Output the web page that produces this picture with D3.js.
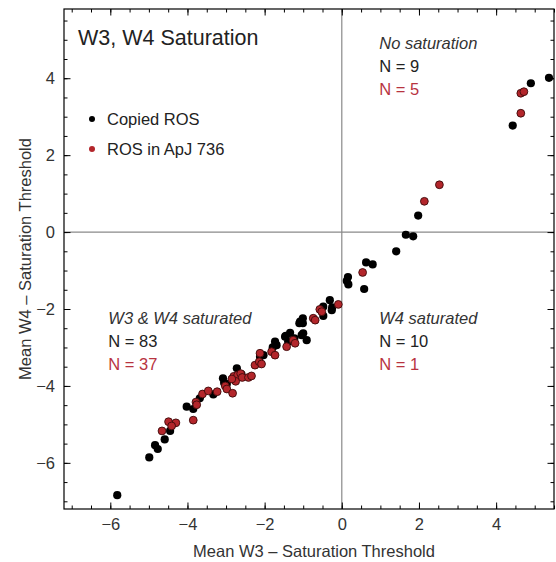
<!DOCTYPE html>
<html>
<head>
<meta charset="utf-8">
<script src="https://cdn.jsdelivr.net/npm/d3@7"></script>
<style>
  body { margin: 0; background: #fff; }
  svg { font-family: "Liberation Sans", Arial, sans-serif; }
</style>
</head>
<body>
<svg width="556" height="562"></svg>
<script>
// DATA

var copiedROS = [
  [-5.82,-6.84],[-4.99,-5.86],[-4.84,-5.54],[-4.77,-5.64],[-4.59,-5.39],[-4.45,-5.17],
  [-4.02,-4.54],[-3.85,-4.60],[-3.68,-4.32],[-3.33,-4.22],[-3.05,-3.92],[-2.98,-3.95],
  [-3.08,-3.80],[-2.72,-3.54],[-2.60,-3.70],[-2.12,-3.24],[-2.03,-3.20],[-1.79,-3.00],
  [-1.73,-2.85],[-1.69,-2.94],[-1.47,-2.72],[-1.39,-2.85],[-1.45,-2.70],[-1.34,-2.62],
  [-1.23,-2.76],[-1.04,-2.68],[-0.91,-2.81],[-1.00,-2.63],[-1.08,-2.33],[-1.01,-2.24],
  [-1.10,-2.37],[-1.01,-2.37],[-0.48,-2.18],[-0.48,-1.94],[-0.31,-1.77],[-0.25,-1.96],
  [-0.26,-2.03],
  [0.13,-1.27],[0.17,-1.36],[0.16,-1.17],[0.58,-1.48],[0.63,-0.79],[0.80,-0.84],
  [1.41,-0.50],[1.66,-0.07],[1.85,-0.11],
  [1.98,0.43],[4.43,2.77],[4.90,3.87],[5.37,4.01]
];

var apj736ROS = [
  [-4.66,-5.17],[-4.49,-4.93],[-4.30,-4.96],[-4.41,-5.04],[-3.85,-4.89],[-3.78,-4.42],
  [-3.76,-4.49],[-3.61,-4.21],[-3.46,-4.13],[-3.23,-4.15],[-3.02,-4.00],[-2.98,-4.08],
  [-2.83,-4.19],[-2.80,-3.75],[-2.70,-3.72],[-2.62,-3.68],[-2.75,-3.88],[-2.85,-3.82],
  [-2.58,-3.78],[-2.42,-3.78],[-2.34,-3.74],[-2.25,-3.46],[-2.14,-3.37],[-2.08,-3.43],
  [-2.12,-3.15],[-1.82,-3.11],[-1.73,-3.20],[-1.43,-2.98],[-1.26,-2.81],[-1.21,-2.89],
  [-0.74,-2.24],[-0.69,-2.29],[-0.57,-2.01],[-0.52,-2.07],[-0.09,-1.88],
  [0.54,-1.05],
  [2.14,0.80],[2.53,1.23],[4.64,3.09],[4.64,3.61],[4.72,3.65]
];

var majorTicks = [-6, -4, -2, 0, 2, 4];
var minorTicks = d3.range(-7, 5.51, 0.5);

var quadrantLabels = [
  { title: "No saturation",     x: 0.97,  y: 4.75, nBlack: 9,  nRed: 5 },
  { title: "W3 & W4 saturated", x: -6.05, y: -2.38, nBlack: 83, nRed: 37 },
  { title: "W4 saturated",      x: 0.97,  y: -2.38, nBlack: 10, nRed: 1 }
];

var legendItems = [
  { label: "Copied ROS",     color: "#000" },
  { label: "ROS in ApJ 736", color: "#b3262b" }
];

// SETUP

var svg = d3.select("svg"),
    margin = { top: 9, right: 2, bottom: 53, left: 64 },
    width = 556 - margin.left - margin.right,
    height = 562 - margin.top - margin.bottom;

var x = d3.scaleLinear().domain([-7.2, 5.5]).range([0, width]),
    y = d3.scaleLinear().domain([-7.2, 5.8]).range([height, 0]);

var g = svg.append("g")
  .attr("transform", "translate(" + margin.left + "," + margin.top + ")");

// zero lines
g.append("line")
  .attr("x1", x(0)).attr("x2", x(0))
  .attr("y1", 0).attr("y2", height)
  .attr("stroke", "#8a8a8a").attr("stroke-width", 1.2);
g.append("line")
  .attr("x1", 0).attr("x2", width)
  .attr("y1", y(0)).attr("y2", y(0))
  .attr("stroke", "#8a8a8a").attr("stroke-width", 1.2);

// frame ticks, inward
function frameAxis(axisFn, scale, vals, size, labels, transform) {
  var a = g.append("g")
    .attr("transform", transform)
    .call(axisFn(scale).tickValues(vals).tickSize(-size).tickPadding(9)
      .tickFormat(labels ? d3.format("d") : ""));
  a.select(".domain").remove();
  a.selectAll("line").attr("stroke", "#000");
  a.selectAll("text")
    .style("font-size", "16.5px")
    .style("font-family", "'Liberation Sans', Arial, sans-serif")
    .attr("fill", "#333");
  return a;
}

frameAxis(d3.axisBottom, x, minorTicks, 3.5, false, "translate(0," + height + ")");
frameAxis(d3.axisBottom, x, majorTicks, 6.5, true, "translate(0," + height + ")");
frameAxis(d3.axisTop, x, minorTicks, 3.5, false, "translate(0,0)");
frameAxis(d3.axisTop, x, majorTicks, 6.5, false, "translate(0,0)");
frameAxis(d3.axisLeft, y, minorTicks, 3.5, false, "translate(0,0)");
frameAxis(d3.axisLeft, y, majorTicks, 6.5, true, "translate(0,0)");
frameAxis(d3.axisRight, y, minorTicks, 3.5, false, "translate(" + width + ",0)");
frameAxis(d3.axisRight, y, majorTicks, 6.5, false, "translate(" + width + ",0)");

g.append("rect")
  .attr("x", 0).attr("y", 0)
  .attr("width", width).attr("height", height)
  .attr("fill", "none").attr("stroke", "#000").attr("stroke-width", 1.2);

// points
g.selectAll(".copied")
  .data(copiedROS)
  .enter().append("circle")
  .attr("class", "copied")
  .attr("cx", function (d) { return x(d[0]); })
  .attr("cy", function (d) { return y(d[1]); })
  .attr("r", 4.1)
  .attr("fill", "#000");

g.selectAll(".apj")
  .data(apj736ROS)
  .enter().append("circle")
  .attr("class", "apj")
  .attr("cx", function (d) { return x(d[0]); })
  .attr("cy", function (d) { return y(d[1]); })
  .attr("r", 3.9)
  .attr("fill", "#b3262b")
  .attr("stroke", "#3d0a0a")
  .attr("stroke-width", 0.9);

// title
g.append("text")
  .attr("x", 14).attr("y", 36)
  .style("font-size", "21.5px")
  .attr("fill", "#222")
  .text("W3, W4 Saturation");

// legend
var leg = g.selectAll(".leg")
  .data(legendItems)
  .enter().append("g")
  .attr("class", "leg")
  .attr("transform", function (d, i) { return "translate(28," + (116 + i * 30) + ")"; });
leg.append("circle")
  .attr("r", 3).attr("cy", -6)
  .attr("fill", function (d) { return d.color; });
leg.append("text")
  .attr("x", 15)
  .style("font-size", "16.5px")
  .attr("fill", "#222")
  .text(function (d) { return d.label; });

// quadrant labels
var q = g.selectAll(".quad")
  .data(quadrantLabels)
  .enter().append("g")
  .attr("class", "quad")
  .attr("transform", function (d) { return "translate(" + x(d.x) + "," + y(d.y) + ")"; });
q.append("text")
  .style("font-size", "16.5px").style("font-style", "italic")
  .attr("fill", "#333")
  .text(function (d) { return d.title; });
q.append("text")
  .attr("y", 23)
  .style("font-size", "16.5px")
  .attr("fill", "#222")
  .text(function (d) { return "N = " + d.nBlack; });
q.append("text")
  .attr("y", 46)
  .style("font-size", "16.5px")
  .attr("fill", "#b8343f")
  .text(function (d) { return "N = " + d.nRed; });

// axis labels
svg.append("text")
  .attr("x", margin.left + width / 2 + 5)
  .attr("y", 557)
  .attr("text-anchor", "middle")
  .style("font-size", "16.5px")
  .attr("fill", "#333")
  .text("Mean W3 \u2013 Saturation Threshold");

svg.append("text")
  .attr("transform", "translate(31," + (margin.top + height / 2) + ") rotate(-90)")
  .attr("text-anchor", "middle")
  .style("font-size", "16.5px")
  .attr("fill", "#333")
  .text("Mean W4 \u2013 Saturation Threshold");
</script>
</body>
</html>
